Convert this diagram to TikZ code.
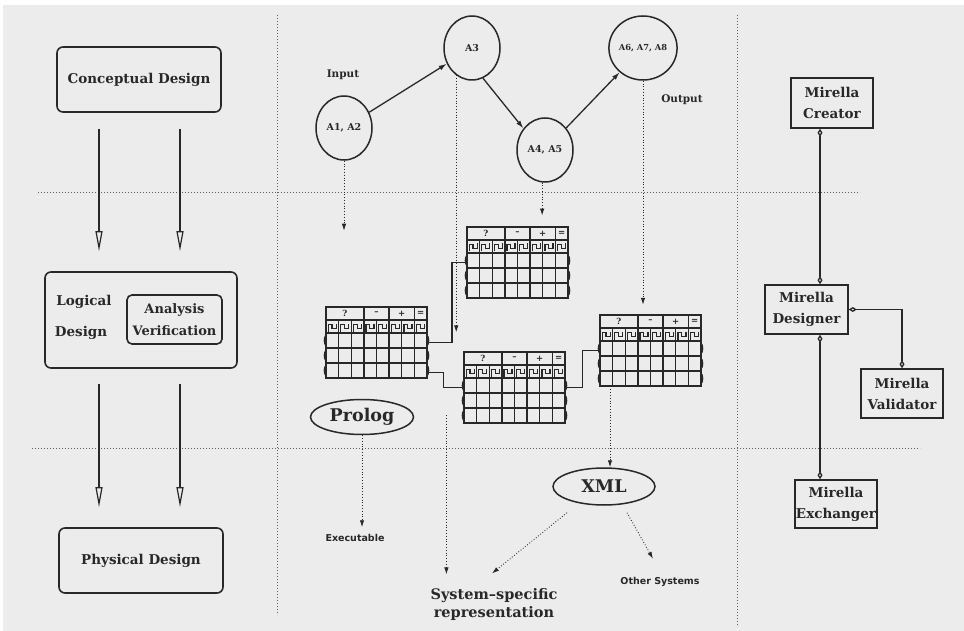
\documentclass[tikz,border=0pt]{standalone}
\usepackage{fontspec}
\setmainfont{DejaVu Serif}
\setsansfont{DejaVu Sans}
\usetikzlibrary{arrows.meta,shapes.geometric,calc}
\definecolor{ink}{RGB}{40,40,40}
\definecolor{paper}{RGB}{236,236,236}
\definecolor{guidecol}{RGB}{95,95,95}
\tikzset{
  tabline/.style={draw=ink, line width=1.3pt},
  hdr/.style={inner sep=0pt, font=\fontsize{8.5}{9}\selectfont\bfseries},
  pics/dtable/.style={code={
    \node[minimum width=101pt, minimum height=71pt, inner sep=0pt, anchor=north west] (-box) at (0,0) {};
    \draw[tabline] (0,0) rectangle (101,71);
    \draw[tabline] (0,13) -- (101,13) (0,41) -- (101,41) (0,56) -- (101,56);
    \draw[ink, line width=2pt] (0,26) -- (101,26);
    \foreach \c in {3,5,7} {\draw[tabline] (\c*12.625,0) -- (\c*12.625,13);}
    \foreach \c in {1,...,7} {\draw[tabline] (\c*12.625,13) -- (\c*12.625,71);}
    \foreach \c in {0,...,7} {\draw[ink, line width=1.2pt] (\c*12.625+2.2,24.5) -- (\c*12.625+2.2,17.5) -- (\c*12.625+6,17.5) -- (\c*12.625+6,21.5) -- (\c*12.625+10.2,21.5) -- (\c*12.625+10.2,16.5);}
    \foreach \y in {26,41,56} {
      \draw[tabline] (0,\y+2) .. controls (-2.2,\y+4.5) and (-2.2,\y+10.5) .. (0,\y+13);
      \draw[tabline] (101,\y+2) .. controls (103.2,\y+4.5) and (103.2,\y+10.5) .. (101,\y+13);
    }
    \node[hdr] (-q) at (18.9,6.5) {?};
    \node[hdr] (-m) at (50.5,6.5) {–};
    \node[hdr] (-p) at (75.75,6.5) {+};
    \node[hdr] (-e) at (94.7,6.5) {=};
  }}
}
\begin{document}
\begin{tikzpicture}[x=1pt,y=-1pt,
  every node/.style={text=ink},
  lbl/.style={font=\fontsize{13.5}{21}\selectfont\bfseries, align=center},
  rbox/.style={draw=ink, line width=1.6pt, rounded corners=6pt, inner sep=0pt},
  sbox/.style={draw=ink, line width=1.6pt, inner sep=0pt, lbl},
  circnode/.style={ellipse, draw=ink, line width=1.5pt, minimum width=56pt, minimum height=64pt, inner sep=0pt, font=\fontsize{9.5}{10}\selectfont\bfseries},
  guide/.style={draw=guidecol, line width=0.8pt, dash pattern=on 0.8pt off 2.2pt},
  dotarrow/.style={draw=ink, line width=0.9pt, dash pattern=on 0.8pt off 2pt, -{Latex[length=7pt,width=4.5pt]}},
  openarrow/.style={draw=ink, line width=1.4pt, -{Triangle[open,length=20pt,width=7pt,line width=1.2pt]}},
  solidarrow/.style={draw=ink, line width=1.3pt, -{Latex[length=8pt,width=5pt]}},
  aggline/.style={draw=ink, line width=1.3pt, {Diamond[open,length=8pt,width=5pt]}-{Diamond[open,length=8pt,width=5pt]}},
  conn/.style={draw=ink, line width=1.2pt},
  ovalnode/.style={ellipse, draw=ink, line width=1.5pt, inner sep=0pt, font=\fontsize{17.5}{20}\selectfont\bfseries},
  smalllbl/.style={font=\fontsize{10.5}{12}\selectfont\bfseries},
  sanslbl/.style={font=\sffamily\bfseries\fontsize{9.5}{12}\selectfont}
]
\fill[white] (0,0) rectangle (964,631);
\fill[paper] (3,5) rectangle (964,631);
\useasboundingbox (0,0) rectangle (964,631);

% guide lines
\draw[guide] (38,192) -- (860,192);
\draw[guide] (32,448) -- (920,448);
\draw[guide] (277,15) -- (277,615);
\draw[guide] (737,15) -- (737,625);

% left column
\node[rbox, minimum width=164pt, minimum height=65pt, lbl] (cd) at (139,79.5) {Conceptual Design};
\node[rbox, minimum width=192pt, minimum height=96pt] (ld) at (141,320) {};
\node[lbl] (ldt1) at (84,302) {Logical};
\node[lbl] (ldt2) at (81,333) {Design};
\node[rbox, rounded corners=5pt, minimum width=95pt, minimum height=49pt, lbl, font=\fontsize{13}{22}\selectfont\bfseries] (av) at (174.5,319.5) {Analysis\\Verification};
\node[rbox, minimum width=164pt, minimum height=65pt, lbl] (pd) at (141,560.5) {Physical Design};

\draw[openarrow] ([xshift=-40pt,yshift=-16pt]cd.south) -- ([xshift=-42pt,yshift=20pt]ld.north);
\draw[openarrow] ([xshift=41pt,yshift=-16pt]cd.south) -- ([xshift=39pt,yshift=20pt]ld.north);
\draw[openarrow] ([xshift=-42pt,yshift=-15pt]ld.south) -- ([xshift=-42pt,yshift=20pt]pd.north);
\draw[openarrow] ([xshift=39pt,yshift=-15pt]ld.south) -- ([xshift=39pt,yshift=20pt]pd.north);

% middle: decision graph
\node[circnode] (a12) at (344,128) {A1, A2};
\node[circnode] (a3) at (472,48) {A3};
\node[circnode] (a45) at (545,150) {A4, A5};
\node[circnode, font=\fontsize{8.3}{10}\selectfont\bfseries] (a678) at (643,48) {A6, A7, A8};
\node[smalllbl] (inp) at (343,75) {Input};
\node[smalllbl] (outp) at (682,100) {Output};

\draw[solidarrow] (a12) -- (a3);
\draw[solidarrow] (a3.290) -- (a45.135);
\draw[solidarrow] (a45) -- (a678);

\draw[dotarrow] (a12.south) -- ++(0,70);
\draw[dotarrow] (a3.240) -- ++(0,257);
\draw[dotarrow] (a45.265) -- ++(0,33);
\draw[dotarrow] (a678.south) -- ++(0,224);

% tables
\pic (t1) at (467,227) {dtable};
\pic (t2) at (326,307) {dtable};
\pic (t3) at (464,352) {dtable};
\pic (t4) at (600,315) {dtable};

\draw[conn] (t1-box.west) -- ++(-15,0) |- (t2-box.east);
\draw[conn] ([yshift=6pt]t2-box.south east) -- ++(16,0) |- (t3-box.west);
\draw[conn] (t3-box.east) -- ++(17,0) |- (t4-box.west);

% outputs
\node[ovalnode, minimum width=103pt, minimum height=35pt] (prolog) at (362,417) {Prolog};
\node[ovalnode, minimum width=102pt, minimum height=37pt] (xml) at (604,486.5) {XML};
\node[sanslbl] (exe) at (355,538) {Executable};
\node[lbl, font=\fontsize{14.5}{18}\selectfont\bfseries] (ssr) at (494,604) {System–specific\\representation};
\node[sanslbl] (oth) at (660,582) {Other Systems};

\draw[dotarrow] (prolog.south) -- ++(0,92);
\coordinate (t4out) at ($(t4-box.south west)+(10,3)$);
\draw[dotarrow] (t4out) -- (t4out |- xml.north);
\draw[dotarrow] ([xshift=-37pt,yshift=-7pt]xml.south) -- ([xshift=-2pt,yshift=11pt]ssr.north);
\draw[dotarrow] ([xshift=23pt,yshift=-7pt]xml.south) -- ([xshift=-7pt,yshift=15pt]oth.north);
\coordinate (t2down) at ($(t2-box.south east)+(19,37)$);
\draw[dotarrow, shorten >=10pt] (t2down) -- (t2down |- ssr.north);

% right column: Mirella tools
\node[sbox, minimum width=82pt, minimum height=50pt] (cr) at (832,103) {Mirella\\Creator};
\node[sbox, minimum width=83pt, minimum height=49pt] (ds) at (806.5,309.5) {Mirella\\Designer};
\node[sbox, minimum width=82pt, minimum height=49pt] (va) at (902,393.5) {Mirella\\Validator};
\node[sbox, minimum width=82pt, minimum height=48pt] (ex) at (836,504) {Mirella\\Exchanger};

\coordinate (vx) at (820,0);
\draw[aggline] (cr.south -| vx) -- (ds.north -| vx);
\draw[aggline] (ds.south -| vx) -- (ex.north -| vx);
\draw[aggline] (ds.east) -| (va.north);
\end{tikzpicture}
\end{document}
